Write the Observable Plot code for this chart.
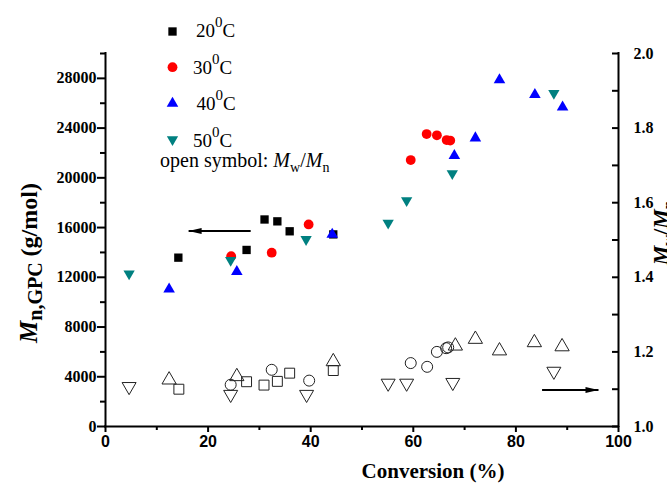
<!DOCTYPE html>
<html><head><meta charset="utf-8">
<script src="https://cdn.jsdelivr.net/npm/d3@7"></script>
<script src="https://cdn.jsdelivr.net/npm/@observablehq/plot@0.6"></script>
<style>
body{margin:0;background:#fff;}
#chart{position:relative;width:667px;height:485px;}
</style></head><body><div id="chart"></div>
<script>
// ---- data: Mn (filled symbols, left axis) ----
const conv20 = [14.2, 27.5, 31.0, 33.5, 35.9, 44.4];
const mn20   = [13580, 14200, 16650, 16500, 15700, 15450];
const conv30 = [24.5, 32.4, 39.6, 59.5, 62.6, 64.6, 66.5, 67.2];
const mn30   = [13700, 13980, 16250, 21430, 23520, 23420, 23040, 23000];
const conv40 = [12.4, 25.6, 44.2, 68.0, 72.1, 76.8, 83.7, 89.1];
const mn40   = [11040, 12450, 15450, 21790, 23200, 27880, 26680, 25690];
const conv50 = [4.6, 24.4, 39.1, 55.1, 58.7, 67.6, 87.4];
const mn50   = [12290, 13370, 15050, 16360, 18180, 20350, 26800];

// ---- data: Mw/Mn (open symbols, right axis) ----
const pConv20 = [14.3, 27.5, 30.9, 33.5, 35.9, 44.4];
const pdi20   = [1.100, 1.120, 1.111, 1.121, 1.143, 1.150];
const pConv30 = [24.4, 32.4, 39.7, 59.5, 62.7, 64.6, 66.4, 66.8];
const pdi30   = [1.112, 1.152, 1.123, 1.170, 1.160, 1.200, 1.210, 1.212];
const pConv40 = [12.4, 25.6, 44.4, 68.2, 72.1, 76.8, 83.6, 89.0];
const pdi40   = [1.125, 1.134, 1.174, 1.216, 1.234, 1.203, 1.225, 1.214];
const pConv50 = [4.6, 24.4, 39.2, 55.1, 58.7, 67.7, 87.4];
const pdi50   = [1.107, 1.086, 1.086, 1.116, 1.116, 1.118, 1.148];

// ---- ticks ----
const xMajor = [0, 20, 40, 60, 80, 100];
const xMinor = [10, 30, 50, 70, 90];
const yMajor = [0, 4000, 8000, 12000, 16000, 20000, 24000, 28000];
const yMinor = [2000, 6000, 10000, 14000, 18000, 22000, 26000, 30000];
const rMajor = [1.0, 1.2, 1.4, 1.6, 1.8, 2.0];
const rMinor = [1.1, 1.3, 1.5, 1.7, 1.9];

// ---- legend / annotations ----
const legendTemps = ["20", "30", "40", "50"];
const arrowLeft  = [{x1: 28.3, y1: 15720, x2: 16.2, y2: 15720}];   // points to left axis
const arrowRight = [{x1: 85.1, p: 1.098, x2: 96.1}];                // points to right axis

// right axis maps 1.0..2.0 onto the left 0..30000 range
const Y_MAX = 30000, R_MIN = 1.0, R_MAX = 2.0;
const toEq = p => (p - R_MIN) / (R_MAX - R_MIN) * Y_MAX;

const pts = (xs, ys) => xs.map((x, i) => ({x, y: ys[i]}));
const ptsP = (xs, ps) => xs.map((x, i) => ({x, y: toEq(ps[i])}));

const sqrt3 = Math.sqrt(3);
const triDown = {draw(ctx, size) {
  const y = -Math.sqrt(size / (sqrt3 * 3));
  ctx.moveTo(0, -y * 2); ctx.lineTo(-sqrt3 * y, y); ctx.lineTo(sqrt3 * y, y); ctx.closePath();
}};
const headL = {draw(ctx) { ctx.moveTo(0, 0); ctx.lineTo(13, -3); ctx.lineTo(13, 3); ctx.closePath(); }};
const headR = {draw(ctx) { ctx.moveTo(0, 0); ctx.lineTo(-13, -3); ctx.lineTo(-13, 3); ctx.closePath(); }};

const serif = "'Liberation Serif', 'Times New Roman', serif";
const sans = "'Liberation Sans', Arial, sans-serif";
const C20 = "#000000", C30 = "#ff0000", C40 = "#0000ff", C50 = "#008080";
const OPEN = "#222";

const plot = Plot.plot({
  width: 667, height: 485,
  marginLeft: 105, marginRight: 49, marginTop: 53, marginBottom: 59,
  x: {domain: [0, 100], label: null},
  y: {domain: [0, Y_MAX], label: null},
  style: {fontFamily: serif, background: "white", overflow: "visible", color: "black"},
  marks: [
    Plot.axisX({ticks: xMinor, tickSize: 4, strokeWidth: 2, tickFormat: () => "", label: null}),
    Plot.axisX({ticks: xMajor, tickSize: 6, tickPadding: 3, strokeWidth: 2, fontFamily: sans, fontWeight: "bold", fontSize: 16, tickFormat: d => String(d), label: null}),
    Plot.axisY({ticks: yMinor, tickSize: 5, strokeWidth: 2, tickFormat: () => "", label: null}),
    Plot.axisY({ticks: yMajor, tickSize: 8, tickPadding: 1, strokeWidth: 2, fontFamily: serif, fontWeight: "bold", fontSize: 16, tickFormat: d => String(d), label: null}),
    Plot.axisY({anchor: "right", ticks: rMinor.map(toEq), tickSize: 7, dx: -7, strokeWidth: 2, tickFormat: () => "", label: null}),
    Plot.axisY({anchor: "right", ticks: rMajor.map(toEq), tickSize: 7, dx: -7, tickPadding: 15, strokeWidth: 2, fontFamily: serif, fontWeight: "bold", fontSize: 16,
      tickFormat: d => (R_MIN + d / Y_MAX * (R_MAX - R_MIN)).toFixed(1), label: null}),
    Plot.ruleX([0, 100], {strokeWidth: 2, strokeLinecap: "square"}),
    Plot.ruleY([0], {strokeWidth: 2, strokeLinecap: "square"}),

    // filled symbols: Mn
    Plot.dot(pts(conv20, mn20), {x: "x", y: "y", symbol: "square", r: 4.7, fill: C20}),
    Plot.dot(pts(conv30, mn30), {x: "x", y: "y", symbol: "circle", r: 4.9, fill: C30}),
    Plot.dot(pts(conv40, mn40), {x: "x", y: "y", symbol: "triangle", r: 4.3, fill: C40}),
    Plot.dot(pts(conv50, mn50), {x: "x", y: "y", symbol: triDown, r: 4.2, fill: C50}),

    // open symbols: Mw/Mn
    Plot.dot(ptsP(pConv20, pdi20), {x: "x", y: "y", symbol: "square", r: 5.6, fill: "none", stroke: OPEN, strokeWidth: 1}),
    Plot.dot(ptsP(pConv30, pdi30), {x: "x", y: "y", symbol: "circle", r: 5.5, fill: "none", stroke: OPEN, strokeWidth: 1}),
    Plot.dot(ptsP(pConv40, pdi40), {x: "x", y: "y", symbol: "triangle", r: 5.3, fill: "none", stroke: OPEN, strokeWidth: 1}),
    Plot.dot(ptsP(pConv50, pdi50), {x: "x", y: "y", symbol: triDown, r: 5.2, fill: "none", stroke: OPEN, strokeWidth: 1}),

    // arrows
    Plot.link(arrowLeft, {x1: "x1", y1: "y1", x2: "x2", y2: "y2", stroke: "black", strokeWidth: 2}),
    Plot.dot(arrowLeft, {x: "x2", y: "y2", symbol: headL, fill: "black", r: 3}),
    Plot.link(arrowRight, {x1: "x1", y1: d => toEq(d.p), x2: "x2", y2: d => toEq(d.p), stroke: "black", strokeWidth: 2}),
    Plot.dot(arrowRight, {x: "x2", y: d => toEq(d.p), symbol: headR, fill: "black", r: 3}),

    // legend symbols (offsets from the frame's top-left corner)
    Plot.dot([0], {frameAnchor: "top-left", dx: 67, dy: -22, symbol: "square", r: 4.7, fill: C20}),
    Plot.dot([0], {frameAnchor: "top-left", dx: 67, dy: 13.7, symbol: "circle", r: 4.9, fill: C30}),
    Plot.dot([0], {frameAnchor: "top-left", dx: 67, dy: 50, symbol: "triangle", r: 4.3, fill: C40}),
    Plot.dot([0], {frameAnchor: "top-left", dx: 67, dy: 86, symbol: triDown, r: 4.2, fill: C50})
  ]
});

document.getElementById("chart").appendChild(plot);

const svg = d3.select(plot);
// enforce tick-label fonts: serif on the y axes, sans on the x axis
svg.selectAll('g[aria-label="y-axis tick label"]').attr("font-family", serif).style("font-family", serif);
svg.selectAll('g[aria-label="x-axis tick label"]').attr("font-family", sans).style("font-family", sans);

// ---- rich text (superscripts / subscripts) ----
const legX = [196, 193, 196.5, 193];
const legY = [37, 73.5, 110, 146.5];
legendTemps.forEach((t, i) => {
  const el = svg.append("text").attr("x", legX[i]).attr("y", legY[i]).attr("text-anchor", "start")
    .attr("font-family", serif).attr("font-size", 19).attr("fill", "black");
  el.append("tspan").text(t);
  el.append("tspan").attr("dy", -10).attr("font-size", 15).text("0");
  el.append("tspan").attr("dy", 10).text("C");
});
{
  const el = svg.append("text").attr("x", 160).attr("y", 167).attr("text-anchor", "start")
    .attr("font-family", serif).attr("font-size", 20).attr("fill", "black");
  el.append("tspan").text("open symbol: ");
  el.append("tspan").attr("font-style", "italic").text("M");
  el.append("tspan").attr("font-size", 14).attr("dy", 5).text("w");
  el.append("tspan").attr("dy", -5).text("/");
  el.append("tspan").attr("font-style", "italic").text("M");
  el.append("tspan").attr("font-size", 14).attr("dy", 5).text("n");
}
// left axis title
{
  const el = svg.append("text").attr("transform", "translate(36.5,263) rotate(-90)")
    .attr("text-anchor", "middle").attr("font-family", serif).attr("font-weight", "bold").attr("fill", "black");
  el.append("tspan").attr("font-size", 25).attr("font-style", "italic").text("M");
  el.append("tspan").attr("font-size", 20).attr("dy", 5).text("n,GPC");
  el.append("tspan").attr("font-size", 24).attr("dy", -5).text(" (g/mol)");
}
// right axis title (partly beyond the right edge, as in the original)
{
  const el = svg.append("text").attr("transform", "translate(668,233) rotate(-90)")
    .attr("text-anchor", "middle").attr("font-family", serif).attr("font-weight", "bold").attr("font-size", 22).attr("fill", "black");
  el.append("tspan").attr("font-style", "italic").text("M");
  el.append("tspan").attr("font-size", 15).attr("dy", 5).text("w");
  el.append("tspan").attr("dy", -5).text("/");
  el.append("tspan").attr("font-style", "italic").text("M");
  el.append("tspan").attr("font-size", 15).attr("dy", 5).text("n");
}
// x axis title
svg.append("text").attr("x", 433).attr("y", 478).attr("text-anchor", "middle")
  .attr("font-family", serif).attr("font-weight", "bold").attr("font-size", 21).attr("fill", "black")
  .text("Conversion (%)");
</script>
</body></html>
